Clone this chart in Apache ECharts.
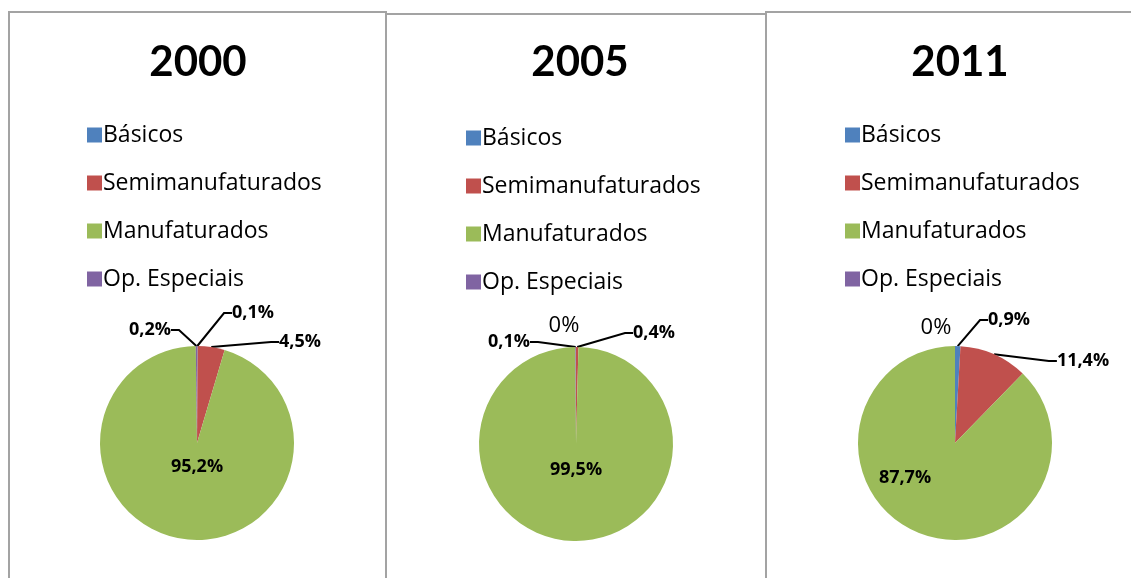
<!DOCTYPE html>
<html>
<head>
<meta charset="utf-8">
<script src="https://cdn.jsdelivr.net/npm/echarts@6/dist/echarts.min.js"></script>
<style>
  html, body { margin: 0; padding: 0; background: #fff; }
  #chart { width: 1131px; height: 578px; }
</style>
</head>
<body>
<div id="chart"></div>
<script>
// dados
var categorias = ['Básicos', 'Semimanufaturados', 'Manufaturados', 'Op. Especiais'];
var cores = ['#4F81BD', '#C0504D', '#9BBB59', '#8064A2'];
var anos = ['2000', '2005', '2011'];
var valores2000 = [0.1, 4.5, 95.2, 0.2];
var valores2005 = [0, 0.4, 99.5, 0.1];
var valores2011 = [0.9, 11.4, 87.7, 0];

// layout de cada painel
var paineis = [
    { esq: 9, dir: 386, topo: 12, cx: 197, cy: 443, titulo: 193, legX: 82, legY: 118 },
    { esq: 386, dir: 766, topo: 14, cx: 576, cy: 444, titulo: 575, legX: 461, legY: 121 },
    { esq: 766, dir: 1140, topo: 12, cx: 955, cy: 443, titulo: 955, legX: 840, legY: 118 }
];
// onde ficam os rotulos (centro do texto), como no original
var rotulos = [
    [[253, 313], [300, 342], [197, 467], [150, 330]],
    [[564, 326], [654, 333], [576, 470], [509, 342]],
    [[1009, 320], [1083, 361], [905, 478], [936, 328]]
];

var fonte = '"Open Sans", Lato, sans-serif';
var chart = echarts.init(document.getElementById('chart'));

function fmt(v) {
    if (v === 0) return '0%';
    return v.toFixed(1).replace('.', ',') + '%';
}

var valores = [valores2000, valores2005, valores2011];
var series = [], titulos = [], legendas = [], graficos = [];

valores.forEach(function(vals, s) {
    var p = paineis[s];
    graficos.push({
        type: 'rect',
        shape: { x: p.esq, y: p.topo, width: p.dir - p.esq, height: 600 },
        style: { fill: 'none', stroke: '#a3a3a3', lineWidth: 2 },
        silent: true
    });
    titulos.push({
        text: anos[s],
        left: p.titulo, top: 36, textAlign: 'center',
        textStyle: { fontFamily: 'Lato, sans-serif', fontSize: 42, fontWeight: 'bold', color: '#000' }
    });
    legendas.push({
        data: categorias,
        orient: 'vertical',
        left: p.legX, top: p.legY,
        icon: 'rect', itemWidth: 15, itemHeight: 15, itemGap: 24,
        textStyle: { fontFamily: fonte, fontSize: 23, lineHeight: 24, color: '#000', padding: [0, 0, 0, -4] },
        selectedMode: false
    });
    series.push({
        type: 'pie',
        center: [p.cx, p.cy],
        radius: 97,
        startAngle: 90,
        clockwise: true,
        avoidLabelOverlap: false,
        animation: false,
        itemStyle: { borderWidth: 0 },
        label: {
            show: true,
            position: 'outside',
            fontFamily: fonte, fontSize: 18, fontWeight: 'bold', color: '#000',
            formatter: function(d) { return fmt(d.value); }
        },
        labelLine: { show: true, length: 8, length2: 8, lineStyle: { color: '#000', width: 2 } },
        labelLayout: function(params) {
            var r = rotulos[s][params.dataIndex];
            return { x: r[0], y: r[1], align: 'center', verticalAlign: 'middle' };
        },
        data: vals.map(function(v, i) {
            var item = { name: categorias[i], value: v, itemStyle: { color: cores[i] } };
            if (i === 2) {
                item.label = { position: 'inside' };
                item.labelLine = { show: false };
            }
            if (v === 0) {
                item.label = { fontWeight: 'normal', fontSize: 22 };
                item.labelLine = { show: false };
            }
            return item;
        })
    });
});

chart.setOption({
    backgroundColor: '#fff',
    title: titulos,
    legend: legendas,
    graphic: graficos,
    series: series
});
</script>
</body>
</html>
